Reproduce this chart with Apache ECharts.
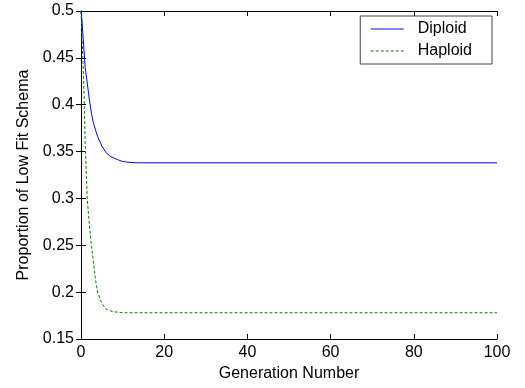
<!DOCTYPE html>
<html>
<head>
<meta charset="utf-8">
<script src="https://cdn.jsdelivr.net/npm/echarts@6/dist/echarts.min.js"></script>
<style>
  html, body { margin: 0; padding: 0; background: #fff; }
  #chart { width: 525px; height: 388px; }
</style>
</head>
<body>
<div id="chart"></div>
<script>
// values
const diploidGen = [0, 0.25, 0.5, 1, 1.5, 2, 2.5, 3, 4, 5, 6, 7, 8, 9, 10, 11, 12, 13, 14, 100];
const diploidVal = [0.5, 0.489, 0.472, 0.44, 0.423, 0.406, 0.391, 0.38, 0.366, 0.356, 0.349, 0.345, 0.343, 0.341, 0.3395, 0.3388, 0.3384, 0.3381, 0.338, 0.338];
const haploidGen = [0, 0.25, 0.5, 0.75, 1, 1.5, 2, 2.5, 3, 3.5, 4, 5, 6, 7, 8, 9, 10, 100];
const haploidVal = [0.5, 0.47, 0.445, 0.41, 0.36, 0.3, 0.272, 0.25, 0.232, 0.213, 0.2, 0.188, 0.182, 0.18, 0.179, 0.1785, 0.178, 0.178];
const xTicks = [0, 20, 40, 60, 80, 100];
const yTicks = [0.15, 0.2, 0.25, 0.3, 0.35, 0.4, 0.45, 0.5];

const toPairs = (xs, ys) => xs.map((x, i) => [x, ys[i]]);
const font = "Liberation Sans, Arial, sans-serif";

const chart = echarts.init(document.getElementById("chart"));

const baseX = {
  type: "value",
  min: xTicks[0],
  max: xTicks[xTicks.length - 1],
  interval: 20,
  axisLine: { lineStyle: { color: "#000", width: 1 } },
  axisTick: { inside: true, length: 5, lineStyle: { color: "#000" } },
  splitLine: { show: false },
};
const baseY = {
  type: "value",
  min: yTicks[0],
  max: yTicks[yTicks.length - 1],
  interval: 0.05,
  axisLine: { show: true, lineStyle: { color: "#000", width: 1 } },
  axisTick: { show: true, inside: true, length: 5, lineStyle: { color: "#000" } },
  splitLine: { show: false },
};

chart.setOption({
  animation: false,
  backgroundColor: "#fff",
  textStyle: { fontFamily: font },
  grid: { left: 81, right: 28, top: 11, bottom: 49 },
  legend: {
    orient: "vertical",
    right: 33,
    top: 16,
    padding: [5, 20, 5, 10],
    itemWidth: 33,
    itemHeight: 14,
    itemGap: 6,
    borderColor: "#444",
    borderWidth: 1,
    backgroundColor: "#fff",
    itemStyle: { opacity: 0 },
    lineStyle: { width: 1 },
    textStyle: { fontFamily: font, fontSize: 16, color: "#000", padding: [0, 0, 0, 9] },
    data: ["Diploid", "Haploid"],
  },
  xAxis: [
    Object.assign({}, baseX, {
      position: "bottom",
      name: "Generation Number",
      nameLocation: "middle",
      nameGap: 25,
      nameTextStyle: { fontFamily: font, fontSize: 16, color: "#000" },
      axisLabel: { color: "#000", fontSize: 16, fontFamily: font, margin: 6 },
    }),
    Object.assign({}, baseX, { position: "top", axisLabel: { show: false } }),
  ],
  yAxis: [
    Object.assign({}, baseY, {
      position: "left",
      name: "Proportion of Low Fit Schema",
      nameLocation: "middle",
      nameGap: 49,
      nameTextStyle: { fontFamily: font, fontSize: 16, color: "#000" },
      axisLabel: { color: "#000", fontSize: 16, fontFamily: font, margin: 7 },
    }),
    Object.assign({}, baseY, { position: "right", axisLabel: { show: false } }),
  ],
  series: [
    {
      name: "Diploid",
      type: "line",
      xAxisIndex: 0,
      yAxisIndex: 0,
      symbol: "none",
      data: toPairs(diploidGen, diploidVal),
      lineStyle: { color: "#0000ff", width: 1 },
      itemStyle: { color: "#0000ff" },
    },
    {
      name: "Haploid",
      type: "line",
      xAxisIndex: 0,
      yAxisIndex: 0,
      symbol: "none",
      data: toPairs(haploidGen, haploidVal),
      lineStyle: { color: "#008000", width: 1, type: [3, 2] },
      itemStyle: { color: "#008000" },
    },
  ],
});
</script>
</body>
</html>
